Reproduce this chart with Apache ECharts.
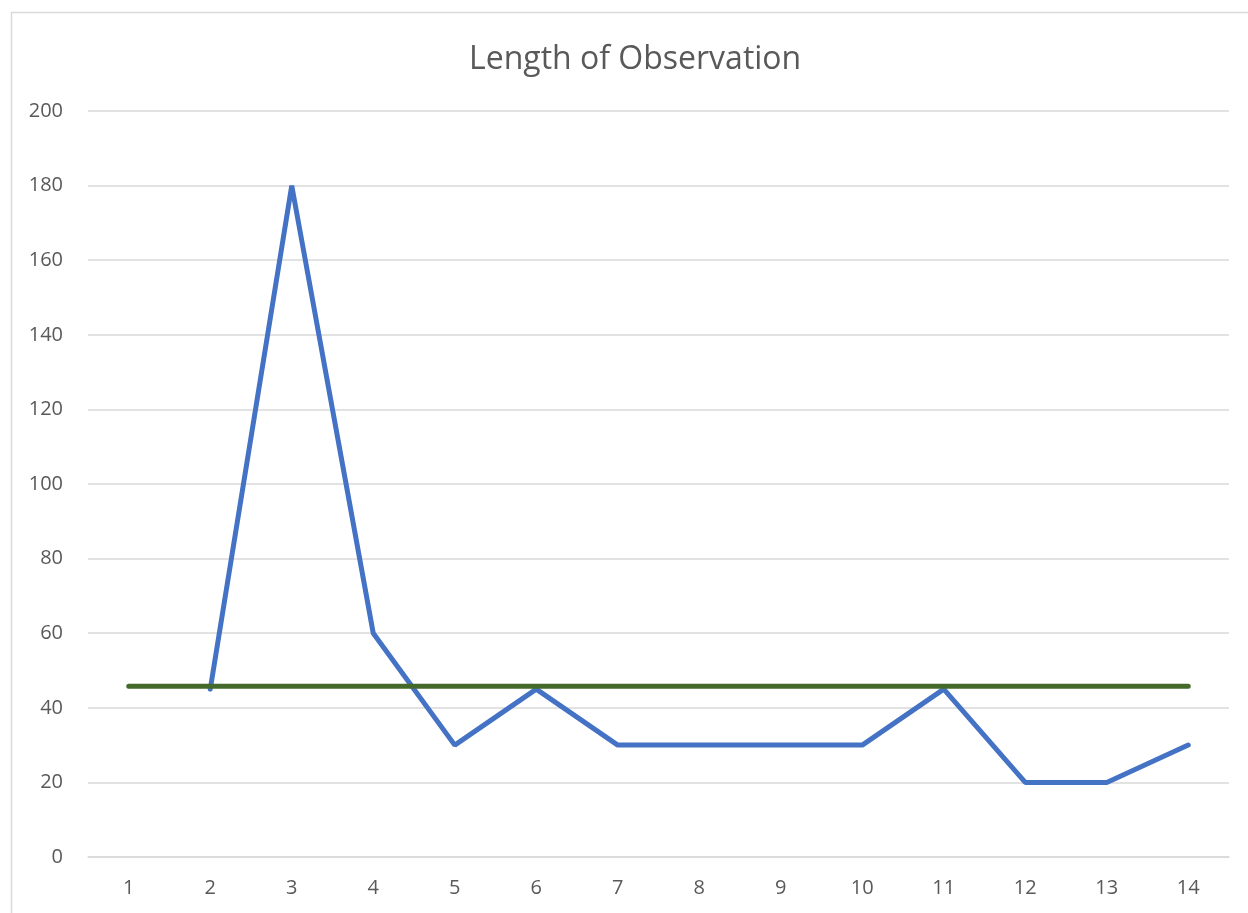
<!DOCTYPE html>
<html><head><meta charset="utf-8">
<script src="https://cdn.jsdelivr.net/npm/echarts@6/dist/echarts.min.js"></script>
<style>html,body{margin:0;padding:0;background:#fff}#c{width:1248px;height:913px}</style>
</head><body><div id="c"></div>
<script>
const categories = ['1','2','3','4','5','6','7','8','9','10','11','12','13','14'];
const observation = [null,45,180,60,30,45,30,30,30,30,45,20,20,30];
const average = [45.8,45.8,45.8,45.8,45.8,45.8,45.8,45.8,45.8,45.8,45.8,45.8,45.8,45.8];
const chart = echarts.init(document.getElementById('c'));
const font = '"Open Sans", "Liberation Sans", sans-serif';
chart.setOption({
  animation:false,
  graphic:[{type:'rect',shape:{x:11.5,y:12.5,width:1400,height:1000},style:{fill:'none',stroke:'#d9d9d9',lineWidth:1.5},silent:true}],
  title:{text:'Length of Observation',left:464,top:39,textStyle:{fontFamily:font,fontSize:32,fontWeight:'normal',color:'#595959'}},
  grid:{left:88,right:19,top:111,bottom:56},
  xAxis:{type:'category',data:categories,boundaryGap:true,
    axisLine:{show:true,lineStyle:{color:'#d9d9d9',width:1.5}},axisTick:{show:false},
    axisLabel:{fontFamily:font,fontSize:20,color:'#595959',margin:21}},
  yAxis:{type:'value',min:0,max:200,interval:20,
    axisLine:{show:false},axisTick:{show:false},
    splitLine:{lineStyle:{color:'#d9d9d9',width:1.5}},
    axisLabel:{fontFamily:font,fontSize:20,color:'#595959',margin:25}},
  series:[
    {type:'line',data:observation,symbol:'none',connectNulls:false,
     lineStyle:{color:'#4472C4',width:5,cap:'round'},z:2},
    {type:'line',data:average,symbol:'none',
     lineStyle:{color:'#436a2a',width:5,cap:'round'},z:3}
  ]
});
</script></body></html>
